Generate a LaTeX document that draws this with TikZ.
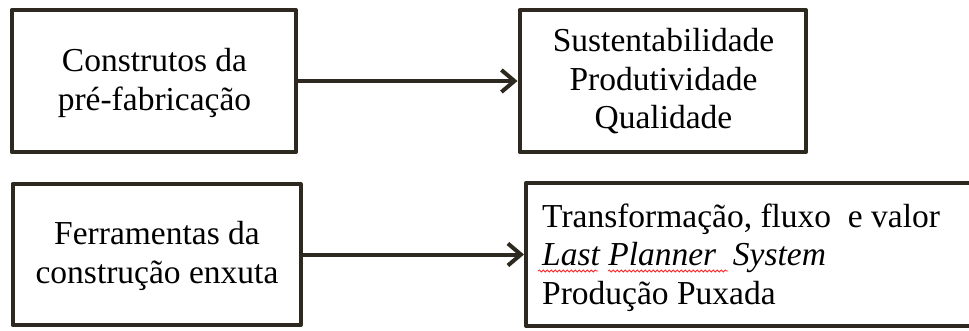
\documentclass[tikz,border=0pt]{standalone}
\usepackage{fontspec}
\setmainfont{Liberation Serif}
\usetikzlibrary{arrows.meta,decorations.pathmorphing}
\definecolor{boxline}{RGB}{45,41,33}
\begin{document}
\begin{tikzpicture}[x=1pt,y=-1pt,
  box/.style={rectangle, draw=boxline, line width=4pt, line join=round, inner sep=0pt},
  txt/.style={inner sep=0pt, text=black, font=\fontsize{33.5}{38.5}\selectfont},
  arrow/.style={draw=boxline, line width=4pt, -{Straight Barb[length=13pt,width=22pt]}},
  squiggle/.style={draw=red!85, line width=0.8pt, decorate, decoration={snake, amplitude=1.1pt, segment length=4pt}}]
\clip (0,0) rectangle (969,330);
\fill[white] (0,0) rectangle (969,330);
\node[box, minimum width=284.5pt, minimum height=142pt] (b1) at (153.75,81) {};
\node[box, minimum width=286.5pt, minimum height=142pt] (b2) at (662.75,81) {};
\node[box, minimum width=288pt, minimum height=141pt] (b3) at (156.5,254.5) {};
\node[box, minimum width=484pt, minimum height=143pt] (b4) at (768,254.5) {};
\node[txt, align=center] (t1) at (154.5,83.25) {\strut Construtos da\\\strut pré-fabricação};
\node[txt, align=center] (t2) at (663.5,82.5) {\strut Sustentabilidade\\\strut Produtividade\\\strut Qualidade};
\node[txt, align=center] (t3) at (157,256.5) {\strut Ferramentas da\\\strut construção enxuta};
\node[txt, align=left, anchor=west] (t4) at (542,257.8) {\strut Transformação, fluxo\ \ e valor\\\strut\textit{Last Planner\ \ System}\\\strut Produção Puxada};
\draw[arrow] (b1.east) -- (b2.west);
\draw[arrow] (b3.east) -- (b4.west);
\draw[squiggle] (538,271) -- (598,271);
\draw[squiggle] (608,271) -- (728,271);
\end{tikzpicture}
\end{document}
